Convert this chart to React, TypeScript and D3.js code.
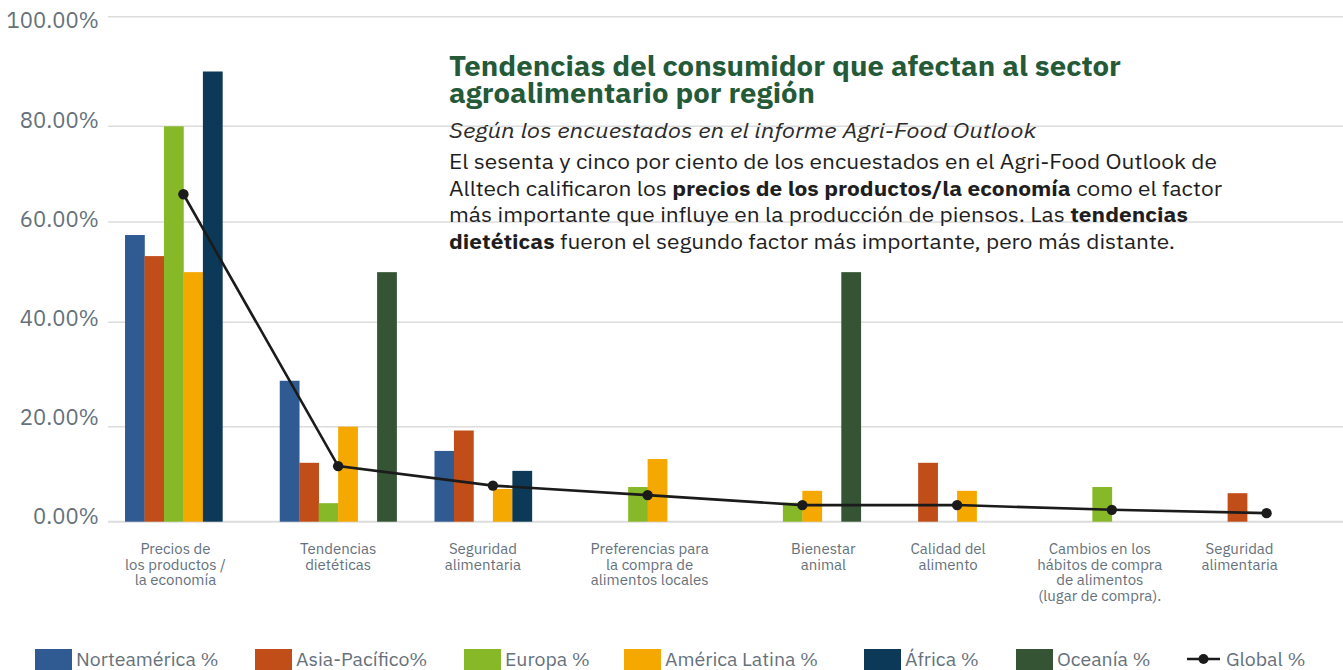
import React from 'react';
import * as d3 from 'd3';

// ---------- DATA ----------
const categoryLines: string[][] = [
  ['Precios de', 'los productos /', 'la economía'],
  ['Tendencias', 'dietéticas'],
  ['Seguridad', 'alimentaria'],
  ['Preferencias para', 'la compra de', 'alimentos locales'],
  ['Bienestar', 'animal'],
  ['Calidad del', 'alimento'],
  ['Cambios en los', 'hábitos de compra', 'de alimentos', '(lugar de compra).'],
  ['Seguridad', 'alimentaria'],
];
const seriesNames = ['Norteamérica %', 'Asia-Pacífico%', 'Europa %', 'América Latina %', 'África %', 'Oceanía %'];
const norteamerica = [57.4, 28.8, 14.9, null, null, null, null, null];
const asiaPacifico = [53.2, 12.4, 19.2, null, null, 12.4, null, 6.0];
const europa = [80, 3.9, null, 7.3, 4.0, null, 7.3, null];
const americaLatina = [50, 20, 6.9, 13.2, 6.5, 6.5, null, null];
const africa = [90, null, 10.7, null, null, null, null, null];
const oceania = [null, 50, null, null, 50, null, null, null];
const globalPct = [65.8, 11.7, 7.6, 5.6, 3.5, 3.5, 2.5, 1.8];
const globalName = 'Global %';
const yTicks = [0, 20, 40, 60, 80, 100];

// ---------- STYLE / LAYOUT ----------
const W = 1343;
const H = 670;
const colors = ['#2f5b92', '#c14d19', '#87b827', '#f4a800', '#0c3957', '#345434'];
const gridY = [521.7, 426.7, 322.3, 222, 126.3, 16.7];
const labelNudge = [-8, 0, -10, 2, 21, -9, -12, -27];
const legendX = [35, 255, 464, 624, 864, 1016, 1187];
const FONT = '"IBM Plex Sans", "Open Sans", "Noto Sans", sans-serif';
const GRAY = '#65717b';

export default function App() {
  const seriesValues = [norteamerica, asiaPacifico, europa, americaLatina, africa, oceania];
  const idx = categoryLines.map((_, i) => i);

  const x0 = d3.scaleBand<number>().domain(idx).range([108, 1342]).paddingInner(0.245).paddingOuter(0.11);
  const x1 = d3.scaleBand<number>().domain(seriesNames.map((_, i) => i)).range([0, x0.bandwidth()]);
  const y = d3.scaleLinear().domain(yTicks).range(gridY);
  const yLabel = d3.scaleLinear().domain([0, 100]).range([516, 20.5]);

  const line = d3
    .line<number>()
    .x((_, i) => (x0(i) as number) + x0.bandwidth() / 2)
    .y((d) => y(d));

  return (
    <svg width={W} height={H} style={{ position: 'absolute', left: 0, top: 0, background: '#fff' }} fontFamily={FONT}>
      {/* gridlines */}
      {yTicks.map((t) => (
        <line key={'g' + t} x1={108} x2={W} y1={y(t)} y2={y(t)} stroke="#dcdcdc" strokeWidth={t === 0 ? 2 : 1.4} />
      ))}
      {/* y tick labels */}
      {yTicks.map((t) => (
        <text key={'t' + t} x={99} y={yLabel(t)} dy="0.36em" textAnchor="end" fontSize={22} fill={GRAY}>
          {d3.format('.2f')(t) + '%'}
        </text>
      ))}

      {/* Title and annotation */}
      <g>
        <text x={449} y={76} fontSize={27.5} fontWeight="bold" fill="#255a38" textLength={672} lengthAdjust="spacingAndGlyphs">
          Tendencias del consumidor que afectan al sector
        </text>
        <text x={449} y={103} fontSize={27.5} fontWeight="bold" fill="#255a38" textLength={366} lengthAdjust="spacingAndGlyphs">
          agroalimentario por región
        </text>
        <text x={449} y={138} fontSize={21} fontStyle="italic" fill="#2b2b2b" textLength={587} lengthAdjust="spacingAndGlyphs">
          Según los encuestados en el informe Agri-Food Outlook
        </text>
        <text x={449} y={169} fontSize={21} fill="#1e1e1e" textLength={768} lengthAdjust="spacingAndGlyphs">
          El sesenta y cinco por ciento de los encuestados en el Agri-Food Outlook de
        </text>
        <text x={449} y={195.5} fontSize={21} fill="#1e1e1e" textLength={773} lengthAdjust="spacingAndGlyphs">
          Alltech calificaron los <tspan fontWeight="bold">precios de los productos/la economía</tspan> como el factor
        </text>
        <text x={449} y={222} fontSize={21} fill="#1e1e1e" textLength={739} lengthAdjust="spacingAndGlyphs">
          más importante que influye en la producción de piensos. Las <tspan fontWeight="bold">tendencias</tspan>
        </text>
        <text x={449} y={248.5} fontSize={21} fill="#1e1e1e" textLength={726} lengthAdjust="spacingAndGlyphs">
          <tspan fontWeight="bold">dietéticas</tspan> fueron el segundo factor más importante, pero más distante.
        </text>
      </g>

      {/* bars */}
      {seriesValues.map((vals, s) => (
        <g key={'s' + s} fill={colors[s]}>
          {vals.map((v, i) =>
            v == null ? null : (
              <rect
                key={i}
                x={(x0(i) as number) + (x1(s) as number)}
                y={y(v)}
                width={x1.bandwidth() + 0.3}
                height={y(0) - y(v)}
              />
            )
          )}
        </g>
      ))}

      {/* global line */}
      <path d={line(globalPct) || ''} fill="none" stroke="#1b1b1b" strokeWidth={2.6} />
      {globalPct.map((v, i) => (
        <circle key={'c' + i} cx={(x0(i) as number) + x0.bandwidth() / 2} cy={y(v)} r={5.2} fill="#1b1b1b" />
      ))}

      {/* category labels */}
      {categoryLines.map((lines, i) => (
        <text key={'cl' + i} textAnchor="middle" fontSize={15} fill={GRAY}>
          {lines.map((l, j) => (
            <tspan key={j} x={(x0(i) as number) + x0.bandwidth() / 2 + labelNudge[i]} y={554 + j * 15.6}>
              {l}
            </tspan>
          ))}
        </text>
      ))}

      {/* legend */}
      {seriesNames.map((n, s) => (
        <g key={'l' + s} transform={`translate(${legendX[s]},0)`}>
          <rect x={0} y={649} width={37} height={21} fill={colors[s]} />
          <text x={41} y={666} fontSize={19.5} fill={GRAY}>
            {n}
          </text>
        </g>
      ))}
      <g transform={`translate(${legendX[6]},0)`}>
        <line x1={0} x2={33} y1={659} y2={659} stroke="#1b1b1b" strokeWidth={2.6} />
        <circle cx={16.5} cy={659} r={5} fill="#1b1b1b" />
        <text x={39} y={666} fontSize={19.5} fill={GRAY}>
          {globalName}
        </text>
      </g>
    </svg>
  );
}
